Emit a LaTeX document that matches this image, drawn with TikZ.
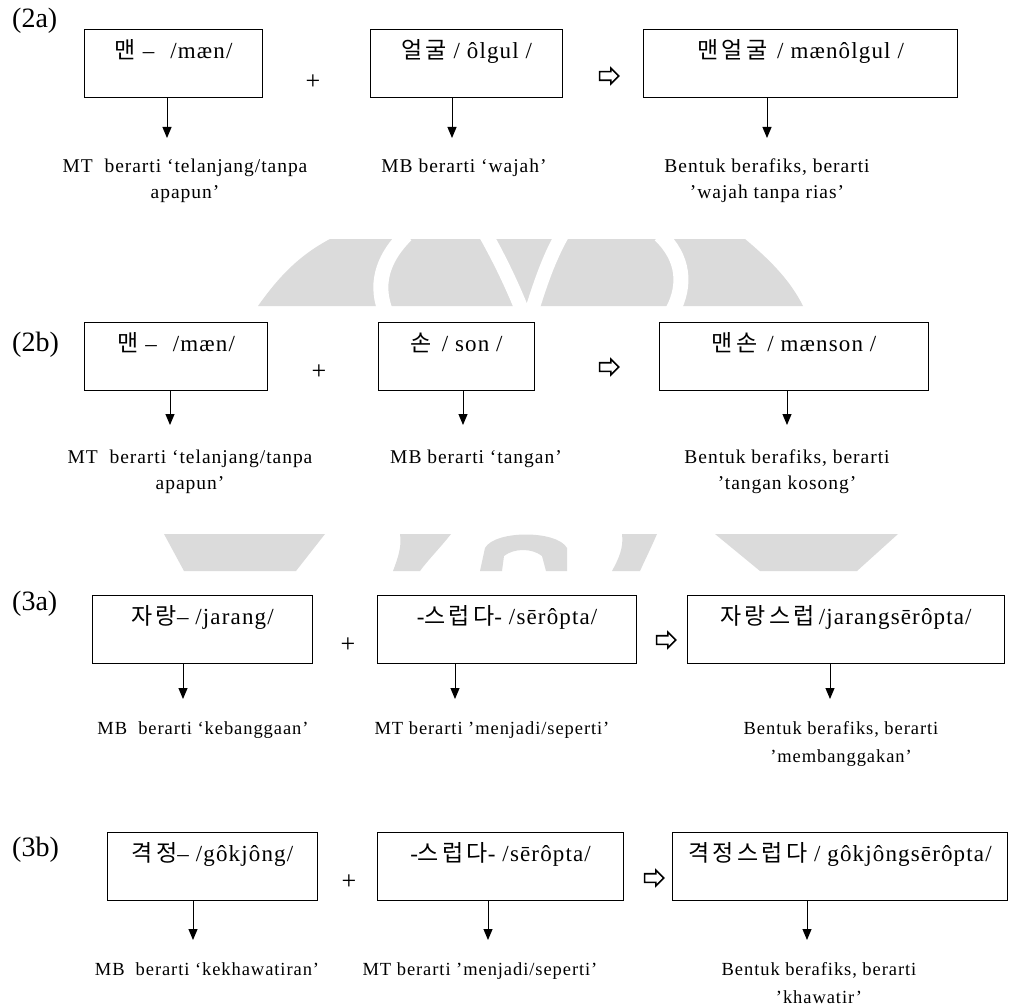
\documentclass[tikz,border=0pt]{standalone}
\usepackage{fontspec}
\setmainfont{Liberation Serif}
\newfontfamily\wordfont[LetterSpace=5]{Liberation Serif}
\newfontfamily\glossfont[LetterSpace=5]{Liberation Serif}
\newfontfamily\krfont[LetterSpace=14]{Noto Sans CJK KR}
\usetikzlibrary{arrows.meta,shapes.arrows}
\newcommand{\kor}[1]{{\krfont\fontsize{23}{25}\selectfont #1}}

\begin{document}
\begin{tikzpicture}[x=1pt,y=-1pt,
    wordbox/.style={draw,line width=1.2pt,anchor=north west,inner sep=0pt,
      text height=29pt,text depth=39pt,font=\wordfont\fontsize{23}{26}\selectfont},
    gloss/.style={anchor=north,align=center,inner sep=0pt,
      font=\glossfont\fontsize{19.5}{26}\selectfont},
    glosssmall/.style={gloss,font=\glossfont\fontsize{18.5}{28}\selectfont},
    rowtag/.style={anchor=west,inner sep=0pt,font=\fontsize{28}{30}\selectfont},
    plussign/.style={inner sep=0pt,font=\fontsize{26}{28}\selectfont},
    thenarrow/.style={single arrow,draw,line width=1.6pt,inner xsep=0pt,inner ysep=3.5pt,
      minimum height=19pt,minimum width=15pt,single arrow head extend=3.5pt},
    pointer/.style={line width=1pt,-{Triangle[length=11pt,width=9pt]}},
    wm/.style={fill=black!14,draw=none}]
  \fill[white] (0,0) rectangle (1010,1006);
  \useasboundingbox (0,0) rectangle (1010,1006);

  % 水印 (两条可见的带)
  \begin{scope}
    \clip (0,239) rectangle (1010,306);
    \fill[wm] (258,306) .. controls (280,275) and (300,255) .. (330,239)
      -- (745,239) .. controls (770,260) and (790,280) .. (803,306) -- cycle;
    \draw[white,line width=15pt] (385,310) .. controls (374,280) and (386,255) .. (406,235);
    \draw[white,line width=14pt] (486,235) .. controls (500,260) and (512,285) .. (522,310);
    \draw[white,line width=14pt] (562,235) .. controls (548,260) and (540,285) .. (532,310);
    \draw[white,line width=15pt] (660,235) .. controls (684,258) and (686,285) .. (673,310);
  \end{scope}
  \begin{scope}
    \clip (0,534) rectangle (1010,571);
    \fill[wm] (164,534) -- (325,534) -- (296,571) -- (184,571) -- cycle;
    \fill[wm] (400,534) -- (451,534) .. controls (440,548) and (428,560) .. (420,571)
      -- (393,571) .. controls (398,558) and (402,546) .. (400,534) -- cycle;
    \fill[wm] (480,571) -- (485,548) .. controls (495,530) and (557,530) .. (567,548)
      -- (567,571) -- (546,571) -- (542,556) .. controls (532,548) and (514,548) .. (504,556)
      -- (502,571) -- cycle;
    \fill[wm] (622,534) -- (657,534) .. controls (650,550) and (645,560) .. (640,571)
      -- (612,571) .. controls (618,560) and (624,548) .. (622,534) -- cycle;
    \fill[wm] (715,534) -- (898,534) -- (857,571) -- (760,571) -- cycle;
  \end{scope}

  % (2a)
  \node[rowtag] (t2a) at (12,21) {(2a)};
  \node[wordbox,minimum width=178pt] (a1) at (84,29) {\kor{맨} –\hspace{16pt}/mæn/};
  \node[plussign] (a12) at (313,82) {+};
  \node[wordbox,minimum width=192pt] (a2) at (370,29) {\kor{얼굴} / ôlgul /};
  \node[thenarrow] (a23) at (607,76) {};
  \node[wordbox,minimum width=314pt] (a3) at (643,29) {\kor{맨얼굴}\hspace{10pt}/ mænôlgul /};
  \coordinate (a1-t) at (167,138);
  \coordinate (a2-t) at (452,138);
  \coordinate (a3-t) at (767,138);
  \node[gloss] (a1-g) at (185,159) {MT\ \ berarti ‘telanjang/tanpa\\apapun’};
  \node[gloss] (a2-g) at (464,159) {MB berarti ‘wajah’};
  \node[gloss] (a3-g) at (767,159) {Bentuk berafiks, berarti\\’wajah tanpa rias’};

  % (2b)
  \node[rowtag] (t2b) at (12,345) {(2b)};
  \node[wordbox,minimum width=183pt] (b1) at (84,322) {\kor{맨} –\hspace{16pt}/mæn/};
  \node[plussign] (b12) at (319,372) {+};
  \node[wordbox,minimum width=156pt] (b2) at (378,322) {\kor{손}\hspace{10pt}/ son /};
  \node[thenarrow] (b23) at (607,367) {};
  \node[wordbox,minimum width=269pt] (b3) at (659,322) {\kor{맨손}\hspace{10pt}/ mænson /};
  \coordinate (b1-t) at (170,425);
  \coordinate (b2-t) at (463,425);
  \coordinate (b3-t) at (787,425);
  \node[gloss] (b1-g) at (190,450) {MT\ \ berarti ‘telanjang/tanpa\\apapun’};
  \node[gloss] (b2-g) at (476,450) {MB berarti ‘tangan’};
  \node[gloss] (b3-g) at (787,450) {Bentuk berafiks, berarti\\’tangan kosong’};

  % (3a)
  \node[rowtag] (t3a) at (12,604) {(3a)};
  \node[wordbox,minimum width=220pt] (c1) at (92,595) {\kor{자랑}– /jarang/};
  \node[plussign] (c12) at (348,645) {+};
  \node[wordbox,minimum width=259pt] (c2) at (377,595) {-\kor{스럽다}- /sērôpta/};
  \node[thenarrow] (c23) at (664,640) {};
  \node[wordbox,minimum width=317pt] (c3) at (687,595) {\kor{자랑스럽}\hspace{4pt}/jarangsērôpta/};
  \coordinate (c1-t) at (183,699);
  \coordinate (c2-t) at (455,699);
  \coordinate (c3-t) at (830,699);
  \node[glosssmall] (c1-g) at (203,721) {MB\ \ berarti ‘kebanggaan’};
  \node[glosssmall] (c2-g) at (492,721) {MT berarti ’menjadi/seperti’};
  \node[glosssmall] (c3-g) at (841,721) {Bentuk berafiks, berarti\\’membanggakan’};

  % (3b)
  \node[rowtag] (t3b) at (12,850) {(3b)};
  \node[wordbox,minimum width=210pt] (d1) at (107,832) {\kor{격정}– /gôkjông/};
  \node[plussign] (d12) at (349,882) {+};
  \node[wordbox,minimum width=246pt] (d2) at (377,832) {-\kor{스럽다}- /sērôpta/};
  \node[thenarrow] (d23) at (652,878) {};
  \node[wordbox,minimum width=335pt] (d3) at (672,832) {\kor{격정스럽다} / gôkjôngsērôpta/};
  \coordinate (d1-t) at (193,940);
  \coordinate (d2-t) at (488,940);
  \coordinate (d3-t) at (807,940);
  \node[glosssmall] (d1-g) at (207,962) {MB\ \ berarti ‘kekhawatiran’};
  \node[glosssmall] (d2-g) at (480,962) {MT berarti ’menjadi/seperti’};
  \node[glosssmall] (d3-g) at (819,962) {Bentuk berafiks, berarti\\’khawatir’};

  \foreach \n in {a1,a2,a3,b1,b2,b3,c1,c2,c3,d1,d2,d3} {
      \draw[pointer] (\n.south -| \n-t) -- (\n-t); % 向下箭头
  }
\end{tikzpicture}
\end{document}
